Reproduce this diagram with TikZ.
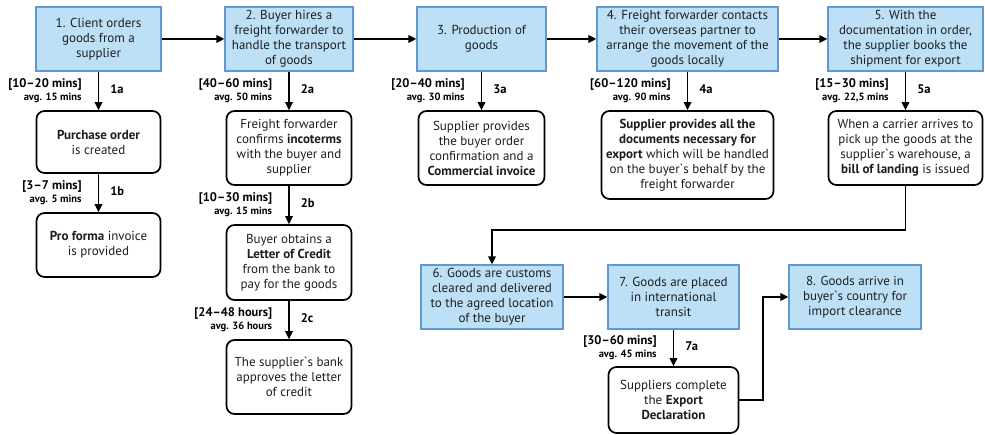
\documentclass[tikz,border=0pt]{standalone}
\usepackage{fontspec}
\setmainfont{PT Sans}
\usetikzlibrary{arrows.meta}
\definecolor{stagefill}{RGB}{189,224,246}
\definecolor{stageline}{RGB}{96,152,208}
\definecolor{ink}{RGB}{30,30,30}
\newcommand{\grv}{\textasciigrave}
\tikzset{
  stage/.style={draw=stageline, fill=stagefill, line width=1.3pt, align=center,
    inner sep=0pt, text=ink, font=\fontsize{13}{15}\selectfont},
  docbox/.style={draw=black, fill=white, line width=1.7pt, rounded corners=8pt,
    align=center, inner sep=0pt, text=ink, font=\fontsize{13}{15}\selectfont},
  flow/.style={-{Triangle[length=8pt,width=7.5pt]}, line width=1.7pt},
  timelbl/.style={anchor=east, align=right, inner sep=0pt, xshift=-16pt,
    font=\fontsize{12.5}{14}\selectfont\bfseries},
  steplbl/.style={anchor=west, inner sep=0pt, xshift=11pt, yshift=2pt,
    font=\fontsize{12.5}{14}\selectfont\bfseries},
}
\newcommand{\avg}[1]{\\[-1pt]{\fontsize{10.5}{12}\selectfont #1}}
\begin{document}
\begin{tikzpicture}[x=1pt,y=-1pt]
\useasboundingbox (0,0) rectangle (985,435);

% main stages, top row
\node[stage, minimum width=125, minimum height=64] (s1) at (98.5,39)
  {1. Client orders\\goods from a\\supplier};
\node[stage, minimum width=128, minimum height=64] (s2) at (289,39)
  {2. Buyer hires a\\freight forwarder to\\handle the transport\\of goods};
\node[stage, minimum width=129, minimum height=64] (s3) at (481.5,39)
  {3. Production of\\goods};
\node[stage, minimum width=181, minimum height=64] (s4) at (687.5,39)
  {4. Freight forwarder contacts\\their overseas partner to\\arrange the movement of the\\goods locally};
\node[stage, minimum width=155, minimum height=64] (s5) at (905.5,39)
  {5. With the\\documentation in order,\\the supplier books the\\shipment for export};

% main stages, bottom row
\node[stage, minimum width=142, minimum height=64] (s6) at (492,297)
  {6. Goods are customs\\cleared and delivered\\to the agreed location\\of the buyer};
\node[stage, minimum width=131, minimum height=64] (s7) at (673.5,297)
  {7. Goods are placed\\in international\\transit};
\node[stage, minimum width=132, minimum height=64] (s8) at (855,297)
  {8. Goods arrive in\\buyer\grv s country for\\import clearance};

% sub-steps
\node[docbox, minimum width=124, minimum height=62] (d1a) at (98.5,142)
  {\textbf{Purchase order}\\is created};
\node[docbox, minimum width=124, minimum height=64] (d1b) at (98.5,245)
  {\textbf{Pro forma} invoice\\is provided};
\node[docbox, minimum width=125, minimum height=74] (d2a) at (289,148)
  {Freight forwarder\\confirms \textbf{incoterms}\\with the buyer and\\supplier};
\node[docbox, minimum width=125, minimum height=75] (d2b) at (289,262.5)
  {Buyer obtains a\\\textbf{Letter of Credit}\\from the bank to\\pay for the goods};
\node[docbox, minimum width=125, minimum height=74] (d2c) at (289,377)
  {The supplier\grv s bank\\approves the letter\\of credit};
\node[docbox, minimum width=126, minimum height=74] (d3a) at (481.5,148)
  {Supplier provides\\the buyer order\\confirmation and a\\\textbf{Commercial invoice}};
\node[docbox, minimum width=172, minimum height=88] (d4a) at (687.5,155)
  {\textbf{Supplier provides all the}\\\textbf{documents necessary for}\\\textbf{export} which will be handled\\on the buyer\grv s behalf by the\\freight forwarder};
\node[docbox, minimum width=154, minimum height=74] (d5a) at (905.5,148)
  {When a carrier arrives to\\pick up the goods at the\\supplier\grv s warehouse, a\\\textbf{bill of landing} is issued};
\node[docbox, minimum width=130, minimum height=66] (d7a) at (673.5,400)
  {Suppliers complete\\the \textbf{Export}\\\textbf{Declaration}};

% main flow
\draw[flow] (s1) -- (s2);
\draw[flow] (s2) -- (s3);
\draw[flow] (s3) -- (s4);
\draw[flow] (s4) -- (s5);
\coordinate (turnA) at (905.5,230);
\coordinate (turnB) at (492,230);
\draw[flow] (d5a.south) -- (turnA) -- (turnB) -- (s6.north);
\draw[flow] (s6) -- (s7);
\coordinate (turnC) at (763,400);
\draw[flow] (d7a.east) -- (turnC) |- (s8.west);

% timed sub-step arrows
\draw[flow] (s1) -- node[timelbl] (t1a) {[10–20 mins]\avg{avg. 15 mins}}
  node[steplbl] (n1a) {1a} (d1a);
\draw[flow] (d1a) -- node[timelbl] (t1b) {[3–7 mins]\avg{avg. 5 mins}}
  node[steplbl] (n1b) {1b} (d1b);
\draw[flow] (s2) -- node[timelbl] (t2a) {[40–60 mins]\avg{avg. 50 mins}}
  node[steplbl] (n2a) {2a} (d2a);
\draw[flow] (d2a) -- node[timelbl] (t2b) {[10–30 mins]\avg{avg. 15 mins}}
  node[steplbl] (n2b) {2b} (d2b);
\draw[flow] (d2b) -- node[timelbl] (t2c) {[24–48 hours]\avg{avg. 36 hours}}
  node[steplbl] (n2c) {2c} (d2c);
\draw[flow] (s3.south -| d3a.north) -- node[timelbl] (t3a) {[20–40 mins]\avg{avg. 30 mins}}
  node[steplbl] (n3a) {3a} (d3a.north);
\draw[flow] (s4) -- node[timelbl] (t4a) {[60–120 mins]\avg{avg. 90 mins}}
  node[steplbl] (n4a) {4a} (d4a);
\draw[flow] (s5) -- node[timelbl] (t5a) {[15–30 mins]\avg{avg. 22,5 mins}}
  node[steplbl] (n5a) {5a} (d5a);
\draw[flow] (s7) -- node[timelbl] (t7a) {[30–60 mins]\avg{avg. 45 mins}}
  node[steplbl] (n7a) {7a} (d7a);
\end{tikzpicture}
\end{document}
